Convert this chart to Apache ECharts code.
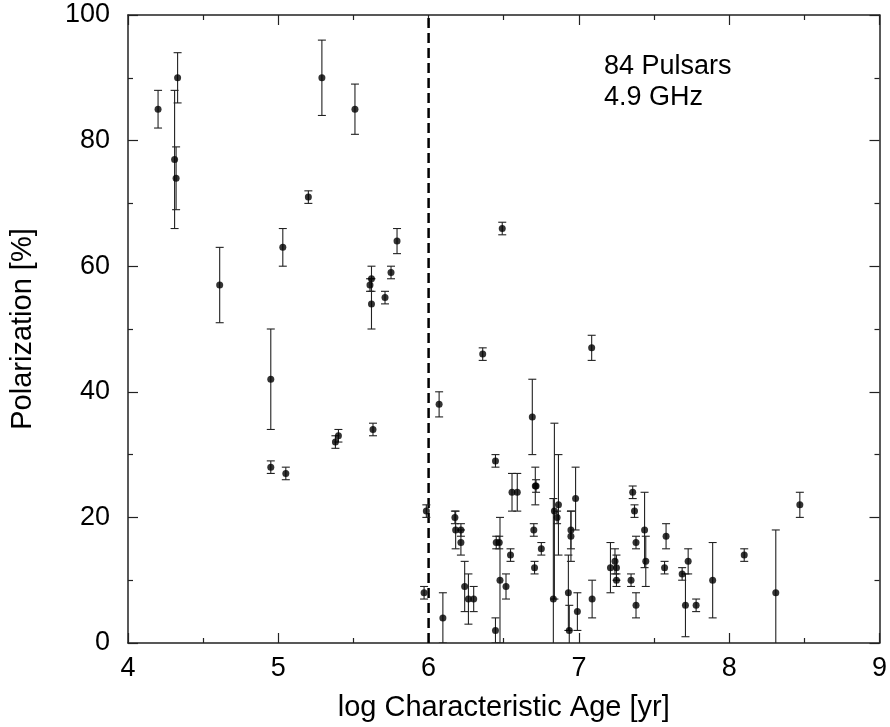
<!DOCTYPE html>
<html><head><meta charset="utf-8">
<script src="https://cdn.jsdelivr.net/npm/echarts@6/dist/echarts.min.js"></script>
<style>html,body{margin:0;padding:0;background:#fff}#c{width:890px;height:727px}</style>
</head><body><div id="c"></div>
<script>
// log characteristic age [yr]
const logAge = [
  4.20, 4.31, 4.32, 4.33, 4.61, 4.95, 4.95, 5.03, 5.05, 5.20,
  5.29, 5.38, 5.40, 5.51, 5.61, 5.62, 5.62, 5.63, 5.71, 5.75,
  5.79, 5.97, 5.985,
  6.07, 6.095, 6.175, 6.18, 6.215, 6.215, 6.24, 6.265, 6.30, 6.36,
  6.445, 6.45, 6.47, 6.445, 6.475, 6.49, 6.515, 6.545, 6.555, 6.59,
  6.69, 6.70, 6.705, 6.71, 6.715, 6.75, 6.83, 6.837, 6.855, 6.864,
  6.93, 6.936, 6.947, 6.947, 6.978, 6.99, 7.085, 7.088, 7.21, 7.24,
  7.25, 7.25, 7.347, 7.358, 7.37, 7.38, 7.38, 7.437, 7.445, 7.57,
  7.58, 7.687, 7.709, 7.727, 7.78, 7.89, 8.10, 8.31, 8.47
];
// polarization [%]
const polarization = [
  85, 77, 74, 90, 57, 42, 28, 63, 27, 71,
  90, 32, 33, 85, 57, 58, 54, 34, 55, 59,
  64, 8, 21,
  38, 4, 20, 18, 18, 16, 9, 7, 7, 46,
  29, 16, 16, 2, 10, 66, 9, 14, 24, 24,
  36, 18, 12, 25, 25, 15, 7, 21, 20, 22,
  8, 2, 18, 17, 23, 5, 47, 7, 12, 13,
  12, 10, 10, 24, 21, 16, 6, 18, 13, 12,
  17, 11, 6, 13, 6, 10, 14, 8, 22
];
// error [%]
const polErr = [
  3, 11, 5, 4, 6, 8, 1, 3, 1, 1,
  6, 1, 1, 4, 1, 2, 4, 1, 1, 1,
  2, 1, 1,
  2, 4, 1, 3, 1, 2, 4, 4, 2, 1,
  1, 1, 1, 2, 10, 1, 2, 1, 3, 3,
  6, 1, 1, 3, 1, 1, 16, 14, 1, 8,
  6, 4, 3, 4, 5, 3, 2, 3, 4, 2,
  2, 1, 1, 1, 1, 1, 2, 6, 4, 1,
  2, 1, 5, 2, 1, 6, 1, 10, 2
];
const xTicks = [4, 5, 6, 7, 8, 9];
const yTicks = [0, 20, 40, 60, 80, 100];
const ageBoundary = 6;
const annotation = ['84 Pulsars', '4.9 GHz'];

const FONT = '"Liberation Sans", Arial, Helvetica, sans-serif';
const points = logAge.map((x, i) => [x, polarization[i], polErr[i]]);
const axisColor = '#222';

function axisCommon(showLabel, margin) {
  return {
    axisLine: { show: true, onZero: false, lineStyle: { color: axisColor, width: 1.5 } },
    axisTick: { show: true, inside: true, length: 10, lineStyle: { color: axisColor, width: 1.2 } },
    minorTick: { show: true, splitNumber: 2, length: 5, lineStyle: { color: axisColor, width: 1.2 } },
    splitLine: { show: false },
    axisLabel: { show: showLabel, fontSize: 27, margin: margin || 8, color: '#000', fontFamily: FONT }
  };
}

const chart = echarts.init(document.getElementById('c'), null, { renderer: 'canvas' });
chart.setOption({
  animation: false,
  backgroundColor: '#fff',
  grid: { left: 122, right: 9, top: 15, bottom: 79 },
  xAxis: [
    Object.assign({ type: 'value', min: xTicks[0], max: xTicks[xTicks.length - 1], interval: 1, position: 'bottom',
      name: 'log Characteristic Age [yr]', nameLocation: 'middle', nameGap: 50,
      nameTextStyle: { fontSize: 29, color: '#000', fontFamily: FONT } }, axisCommon(true, 12)),
    Object.assign({ type: 'value', min: xTicks[0], max: xTicks[xTicks.length - 1], interval: 1, position: 'top' }, axisCommon(false))
  ],
  yAxis: [
    Object.assign({ type: 'value', min: yTicks[0], max: yTicks[yTicks.length - 1], interval: 20, position: 'left',
      name: 'Polarization [%]', nameLocation: 'middle', nameGap: 91, nameRotate: 90,
      nameTextStyle: { fontSize: 29, color: '#000', fontFamily: FONT } }, axisCommon(true, 18)),
    Object.assign({ type: 'value', min: yTicks[0], max: yTicks[yTicks.length - 1], interval: 20, position: 'right' }, axisCommon(false))
  ],
  graphic: [{
    type: 'text', left: 604, top: 51,
    style: { text: annotation.join('\n'), font: '27px ' + FONT, lineHeight: 31, fill: '#000' }
  }],
  series: [
    {
      type: 'line', data: [[ageBoundary, yTicks[0]], [ageBoundary, yTicks[yTicks.length - 1]]],
      symbol: 'none', lineStyle: { color: '#000', width: 2.5, type: [10, 5] }, silent: true, z: 1
    },
    {
      type: 'custom', data: points, clip: true, z: 2,
      renderItem: function (params, api) {
        const x = api.value(0), y = api.value(1), e = api.value(2);
        const lo = api.coord([x, y - e]);
        const hi = api.coord([x, y + e]);
        const c = 4;
        const st = { stroke: '#222', lineWidth: 1.1 };
        return {
          type: 'group', children: [
            { type: 'line', shape: { x1: lo[0], y1: lo[1], x2: hi[0], y2: hi[1] }, style: st },
            { type: 'line', shape: { x1: lo[0] - c, y1: lo[1], x2: lo[0] + c, y2: lo[1] }, style: st },
            { type: 'line', shape: { x1: hi[0] - c, y1: hi[1], x2: hi[0] + c, y2: hi[1] }, style: st }
          ]
        };
      }
    },
    {
      type: 'scatter', data: points.map(p => [p[0], p[1]]), symbol: 'circle', symbolSize: 7,
      itemStyle: { color: '#000' }, z: 3
    }
  ]
});
</script>
</body></html>
